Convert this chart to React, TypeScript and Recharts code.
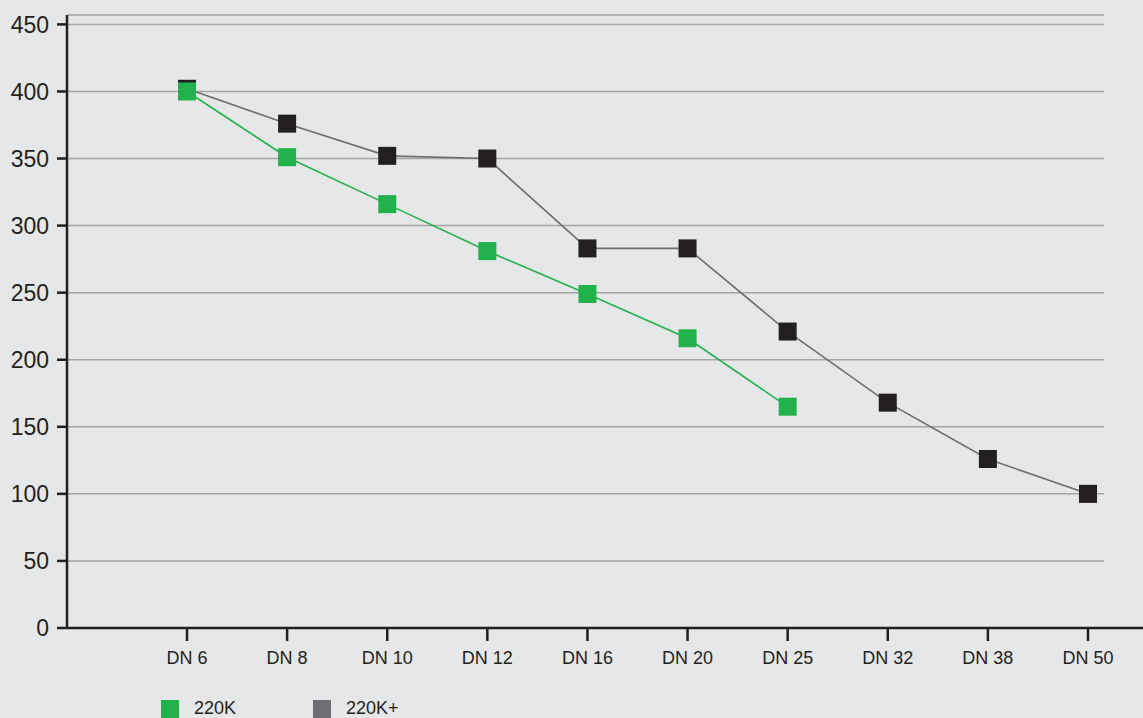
import { LineChart, Line, XAxis, YAxis, CartesianGrid } from 'recharts';

// pipe sizes on the x axis
const sizes = ['DN 6', 'DN 8', 'DN 10', 'DN 12', 'DN 16', 'DN 20', 'DN 25', 'DN 32', 'DN 38', 'DN 50'];
// values
const k220 = [400, 351, 316, 281, 249, 216, 165, null, null, null];
const k220plus = [402, 376, 352, 350, 283, 283, 221, 168, 126, 100];
const yTicks = [0, 50, 100, 150, 200, 250, 300, 350, 400, 450];

const GREEN = '#22b24c';
const DARK = '#231f20';
const GREY = '#6d6e71';
const FONT = '"Liberation Sans", Arial, sans-serif';

const data = sizes.map((s, i) => ({ size: s, k220: k220[i], k220plus: k220plus[i] }));

const squareDot = (fill: string) => (props: any) => {
  const { cx, cy, value, index } = props;
  if (value == null || cx == null || cy == null) return <g key={index} />;
  return <rect key={index} x={cx - 9} y={cy - 9} width={18} height={18} fill={fill} />;
};

const legendItems = [
  { label: '220K', color: GREEN },
  { label: '220K+', color: GREY },
];

export default function App() {
  return (
    <div style={{ position: 'fixed', left: 0, top: 0, width: 1143, height: 718, background: '#e6e7e8', overflow: 'hidden' }}>
      <LineChart width={1143} height={718} data={data} margin={{ top: 15, right: 0, bottom: 0, left: 0 }}>
        <CartesianGrid
          vertical={false}
          horizontal={(p: any) => (
            <line key={p.key ?? p.index} x1={p.x1} x2={p.x2 - 39} y1={p.y1} y2={p.y2} stroke="#a6a4a4" strokeWidth={1.5} />
          )}
        />
        <XAxis
          dataKey="size"
          height={90}
          padding={{ left: 120, right: 55 }}
          axisLine={{ stroke: DARK, strokeWidth: 2.5 }}
          tickLine={{ stroke: DARK, strokeWidth: 2.5 }}
          tickSize={13}
          tickMargin={10}
          tick={{ fill: DARK, fontSize: 18, fontFamily: FONT }}
          interval={0}
        />
        <YAxis
          width={67}
          domain={[0, 457]}
          ticks={yTicks}
          allowDataOverflow
          axisLine={{ stroke: DARK, strokeWidth: 2.5 }}
          tickLine={{ stroke: DARK, strokeWidth: 2.5 }}
          tickSize={10}
          tickMargin={8}
          tick={{ fill: DARK, fontSize: 23, fontFamily: FONT }}
        />
        <Line
          dataKey="k220plus"
          stroke={GREY}
          strokeWidth={1.6}
          dot={squareDot(DARK)}
          activeDot={false}
          isAnimationActive={false}
        />
        <Line
          dataKey="k220"
          stroke={GREEN}
          strokeWidth={1.6}
          dot={squareDot(GREEN)}
          activeDot={false}
          isAnimationActive={false}
        />
      </LineChart>
      {legendItems.map((it, i) => (
        <div
          key={it.label}
          style={{ position: 'absolute', left: 161 + i * 152, top: 698, display: 'flex', alignItems: 'center', fontFamily: FONT, fontSize: 18, color: DARK }}
        >
          <span style={{ display: 'inline-block', width: 18, height: 18, background: it.color, marginRight: 15 }} />
          <span>{it.label}</span>
        </div>
      ))}
    </div>
  );
}
